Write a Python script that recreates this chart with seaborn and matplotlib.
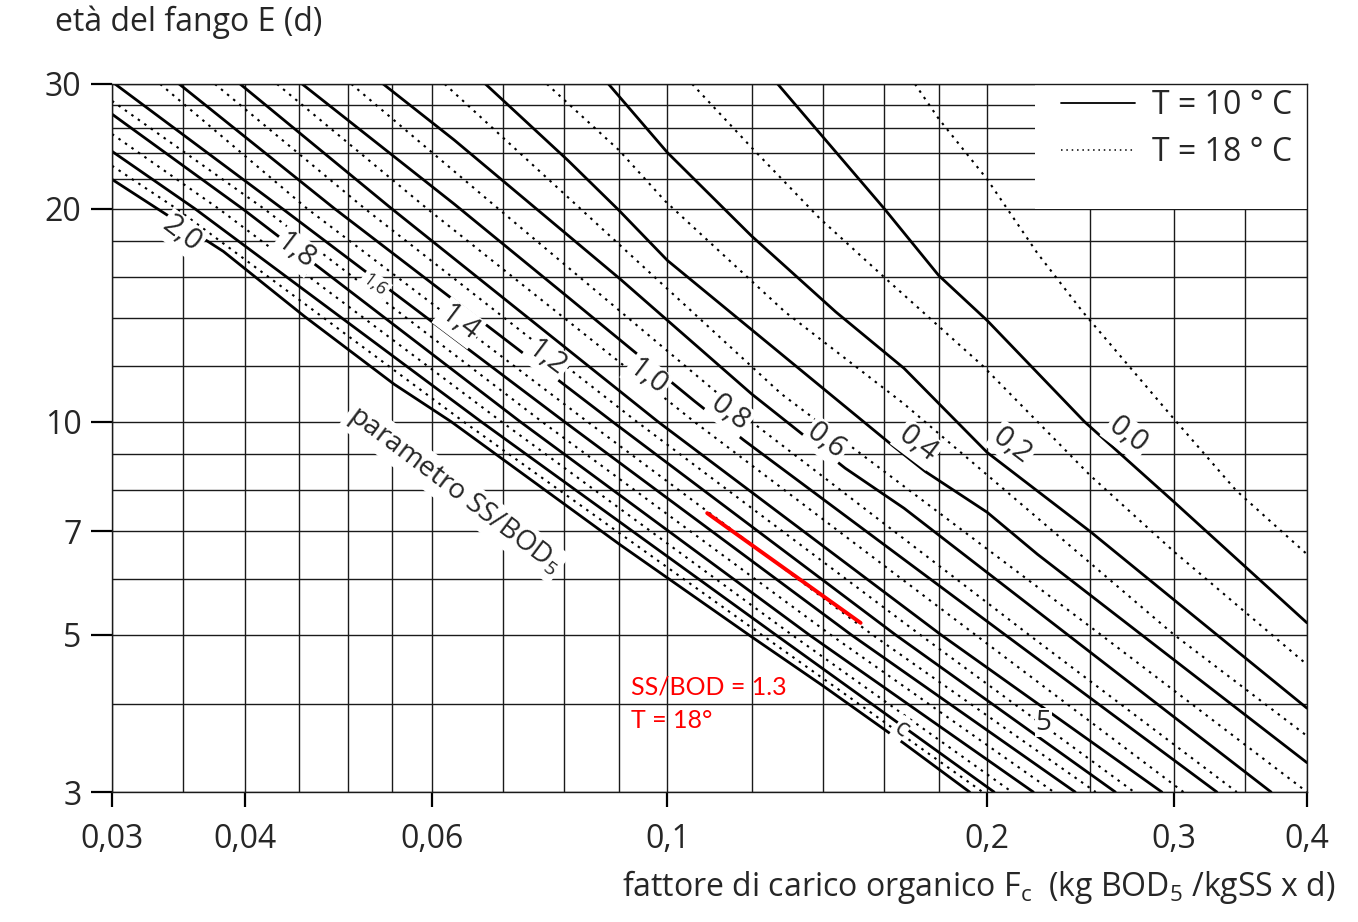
import matplotlib
matplotlib.use('Agg')
import matplotlib.pyplot as plt
import numpy as np
import pandas as pd
import seaborn as sns
from matplotlib.lines import Line2D
from matplotlib.patches import Rectangle
from matplotlib.ticker import NullFormatter

sns.set_style('ticks')
plt.rcParams['font.family'] = ['Open Sans', 'DejaVu Sans']
plt.rcParams['mathtext.fontset'] = 'custom'
plt.rcParams['mathtext.rm'] = 'Open Sans'

# SS/BOD5 parameter of each curve
ratios = [0.0, 0.2, 0.4, 0.6, 0.8, 1.0, 1.2, 1.4, 1.6, 1.8, 2.0]

# T = 10 C (solid) : Fc and E points
fc_10 = [
    [0.127, 0.16, 0.18, 0.2, 0.247, 0.3, 0.4],
    [0.088, 0.1, 0.12, 0.144, 0.167, 0.2, 0.25, 0.3, 0.4],
    [0.0674, 0.0806, 0.09, 0.1, 0.1145, 0.163, 0.175, 0.2, 0.223, 0.4],
    [0.054, 0.063, 0.0903, 0.12, 0.147, 0.167, 0.37],
    [0.0453, 0.063, 0.0806, 0.106, 0.118, 0.208, 0.329],
    [0.0396, 0.055, 0.098, 0.181, 0.292],
    [0.0347, 0.0486, 0.0888, 0.164, 0.264],
    [0.0302, 0.0434, 0.08, 0.149, 0.242],
    [0.03, 0.0398, 0.0727, 0.136, 0.221],
    [0.03, 0.0359, 0.0668, 0.1265, 0.203],
    [0.03, 0.0382, 0.0455, 0.0553, 0.0626, 0.0903, 0.12, 0.14, 0.1667, 0.1925],
]
e_10 = [
    [30, 20, 16.1, 13.9, 10, 7.7, 5.2],
    [30, 24, 18.3, 14.3, 11.9, 9.05, 7.0, 5.6, 3.94],
    [30, 23.4, 19.9, 16.9, 14.3, 9.25, 8.5, 7.45, 6.5, 3.3],
    [30, 25, 15.9, 10.95, 8.6, 7.55, 3],
    [30, 20.3, 15.0, 10.7, 9.42, 5, 3],
    [30, 20, 10, 5, 3],
    [30, 20, 10, 5, 3],
    [30, 20, 10, 5, 3],
    [27.2, 20, 10, 5, 3],
    [24.1, 20, 10, 5, 3],
    [22, 17.4, 14.1, 11.3, 10, 6.7, 4.97, 4.24, 3.52, 3],
]

# T = 18 C (dotted)
fc_18 = [
    [0.171, 0.18, 0.2, 0.223, 0.246, 0.298, 0.343, 0.4],
    [0.1055, 0.12, 0.139, 0.16, 0.198, 0.25, 0.3, 0.4],
    [0.077, 0.09, 0.0995, 0.129, 0.167, 0.3, 0.4],
    [0.0617, 0.0828, 0.128, 0.256, 0.4],
    [0.0504, 0.0693, 0.12, 0.219, 0.3435],
    [0.0429, 0.0594, 0.106, 0.195, 0.306],
    [0.0375, 0.0519, 0.0936, 0.173, 0.275],
    [0.0333, 0.0458, 0.0841, 0.156, 0.253],
    [0.03, 0.0417, 0.0762, 0.1425, 0.231],
    [0.03, 0.0378, 0.0698, 0.131, 0.211],
    [0.03, 0.0345, 0.0643, 0.1227, 0.198],
]
e_18 = [
    [30, 26.8, 22, 17.3, 14.3, 10.2, 8.0, 6.5],
    [30, 24.4, 19.4, 16, 12, 8.4, 6.55, 4.54],
    [30, 24.2, 20.5, 14.3, 10.6, 5, 3.6],
    [30, 20, 10.95, 5, 3],
    [30, 20, 10, 5, 3],
    [30, 20, 10, 5, 3],
    [30, 20, 10, 5, 3],
    [30, 20, 10, 5, 3],
    [28.4, 20, 10, 5, 3],
    [25.5, 20, 10, 5, 3],
    [23.0, 20, 10, 5, 3],
]

# curve labels (value, Fc, E)
lbl_text = ['2,0', '1,8', '1,6', '1,4', '1,2', '1,0', '0,8', '0,6', '0,4', '0,2', '0,0']
lbl_fc = [0.0349, 0.0447, 0.053, 0.0637, 0.077, 0.0957, 0.1145, 0.141, 0.172, 0.211, 0.271]
lbl_e = [18.4, 17.4, 15.6, 13.8, 12.3, 11.55, 10.3, 9.38, 9.3, 9.25, 9.56]

# red annotation
red_fc = [0.109, 0.152]
red_e = [7.43, 5.2]

# axes ticks and grid
tick_fc = [0.03, 0.04, 0.06, 0.1, 0.2, 0.3, 0.4]
tick_fc_lbl = ['0,03', '0,04', '0,06', '0,1', '0,2', '0,3', '0,4']
tick_e = [3, 5, 7, 10, 20, 30]
grid_fc = [0.03, 0.035, 0.04, 0.045, 0.05, 0.055, 0.06, 0.07, 0.08, 0.09, 0.1,
           0.12, 0.14, 0.16, 0.18, 0.2, 0.25, 0.3, 0.35, 0.4]
grid_e = [3, 4, 5, 6, 7, 8, 9, 10, 12, 14, 16, 18, 20, 22, 24, 26, 28, 30]

rows = []
for T, fcs, es in [('10', fc_10, e_10), ('18', fc_18, e_18)]:
    for r, f, e in zip(ratios, fcs, es):
        for a, b in zip(f, e):
            rows.append({'Fc': a, 'E': b, 'ratio': r, 'T': T})
df = pd.DataFrame(rows)

fig = plt.figure(figsize=(13.58, 9.22), dpi=100)
ax = fig.add_axes([112 / 1358, 130 / 922, 1195 / 1358, 708 / 922])
ax.set_xscale('log')
ax.set_yscale('log')

sns.lineplot(data=df[df['T'] == '10'], x='Fc', y='E', units='ratio', estimator=None,
             sort=False, color='k', lw=2.0, legend=False, ax=ax)
sns.lineplot(data=df[df['T'] == '18'], x='Fc', y='E', units='ratio', estimator=None,
             sort=False, color='k', lw=1.5, linestyle=(0, (1.2, 2.6)), legend=False, ax=ax)
sns.lineplot(x=red_fc, y=red_e, color='red', lw=2.8, ax=ax)

ax.set_xlim(0.03, 0.4)
ax.set_ylim(3, 30)
ax.set_xlabel('')
ax.set_ylabel('')

ax.set_xticks(tick_fc)
ax.set_xticklabels(tick_fc_lbl)
ax.set_yticks(tick_e)
ax.set_yticklabels([str(v) for v in tick_e])
ax.set_xticks(grid_fc, minor=True)
ax.set_yticks(grid_e, minor=True)
ax.xaxis.set_minor_formatter(NullFormatter())
ax.yaxis.set_minor_formatter(NullFormatter())
ax.tick_params(which='minor', length=0)
ax.tick_params(axis='x', which='major', length=11, width=1.6, pad=11, labelsize=23, color='k')
ax.tick_params(axis='y', which='major', length=15, width=1.6, pad=7, labelsize=23, color='k')
ax.grid(True, which='both', color='#1a1a1a', lw=1.0)
ax.set_axisbelow(True)
for s in ax.spines.values():
    s.set_color('#1a1a1a')
    s.set_linewidth(1.0)

# blank area behind the legend
ax.add_patch(Rectangle((0.222, 20), 0.4 - 0.222, 10, facecolor='white',
                       edgecolor='none', zorder=1))

for t, x, y in zip(lbl_text, lbl_fc, lbl_e):
    fs = 13 if t == '1,6' else 21
    ax.text(x, y, t, rotation=-37, ha='center', va='center', fontsize=fs,
            rotation_mode='anchor', zorder=5,
            bbox=dict(facecolor='white', edgecolor='none', pad=1.5))

ax.text(0.063, 8.0, 'parametro SS/BOD$_{\\rm 5}$', rotation=-37, ha='center', va='center',
        fontsize=20, rotation_mode='anchor', zorder=5,
        bbox=dict(facecolor='white', edgecolor='none', pad=2))
ax.text(0.166, 3.68, 'c', rotation=-37, ha='center', va='center', fontsize=18, zorder=5,
        bbox=dict(facecolor='white', edgecolor='none', pad=0.5))
ax.text(0.226, 3.76, '5', ha='center', va='center', fontsize=20, zorder=5,
        bbox=dict(facecolor='white', edgecolor='none', pad=0.5))

ax.text(0.0925, 4.22, 'SS/BOD = 1.3', color='red', fontsize=18, ha='left', va='center',
        zorder=6, family='Lato')
ax.text(0.0925, 3.79, 'T = 18°', color='red', fontsize=18, ha='left', va='center',
        zorder=6, family='Lato')

handles = [Line2D([], [], color='k', lw=1.3),
           Line2D([], [], color='k', lw=1.1, linestyle=(0, (1, 2.5)))]
ax.legend(handles, ['T = 10 ° C', 'T = 18 ° C'], loc='upper right', frameon=False,
          fontsize=23, handlelength=2.3, handletextpad=0.55, labelspacing=0.45,
          bbox_to_anchor=(1.004, 1.02), borderaxespad=0.2)

fig.text(55 / 1358, 1 - 22 / 922, 'età del fango E (d)', ha='left', va='center', fontsize=23)
fig.text(1335 / 1358, 1 - 887 / 922,
         'fattore di carico organico F$_{\\rm c}$  (kg BOD$_{\\rm 5}$ /kgSS x d)',
         ha='right', va='center', fontsize=23)

fig.savefig('out.png', dpi=100)
